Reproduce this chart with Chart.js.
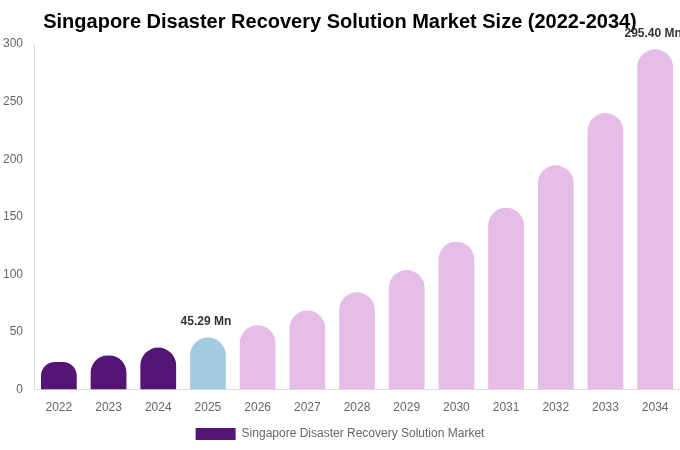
<!DOCTYPE html>
<html>
<head>
<meta charset="utf-8">
<script src="https://cdn.jsdelivr.net/npm/chart.js@4/dist/chart.umd.min.js"></script>
<style>
  html, body { margin: 0; padding: 0; background: #fff; }
  #wrap { width: 680px; height: 450px; }
</style>
</head>
<body>
<div id="wrap"><canvas id="marketChart"></canvas></div>
<script>
// data
var years = ['2022', '2023', '2024', '2025', '2026', '2027', '2028', '2029', '2030', '2031', '2032', '2033', '2034'];
var market_size = [24.0, 29.6, 36.5, 45.29, 55.9, 68.7, 84.4, 103.8, 128.4, 157.9, 194.7, 240.0, 295.40];
// which bars carry a value label on top
var labelled_years = ['2025', '2034'];
var series_name = 'Singapore Disaster Recovery Solution Market';
var chart_title = 'Singapore Disaster Recovery Solution Market Size (2022-2034)';

var HISTORIC = '#541574', CURRENT = '#a3cbdf', FORECAST = '#e6bce8';
var bar_colors = years.map(function (y) {
    var n = parseInt(y, 10);
    if (n < 2025) return HISTORIC;
    if (n === 2025) return CURRENT;
    return FORECAST;
});

Chart.defaults.font.family = "'Liberation Sans', Arial, sans-serif";
Chart.defaults.color = '#666';

//draws "xx.xx Mn" above chosen bars
var valueLabels = {
    id: 'valueLabels',
    afterDatasetsDraw: function (chart) {
        var ctx = chart.ctx;
        var meta = chart.getDatasetMeta(0);
        ctx.save();
        ctx.font = "bold 12px 'Liberation Sans', Arial, sans-serif";
        ctx.fillStyle = '#333';
        ctx.textAlign = 'center';
        ctx.textBaseline = 'bottom';
        meta.data.forEach(function (bar, i) {
            if (labelled_years.indexOf(years[i]) === -1) return;
            ctx.fillText(market_size[i].toFixed(2) + ' Mn', bar.x - 2, bar.y - 10);
        });
        ctx.restore();
    }
};

new Chart(document.getElementById('marketChart').getContext('2d'), {
    type: 'bar',
    data: {
        labels: years,
        datasets: [{
            label: series_name,
            data: market_size,
            backgroundColor: bar_colors,
            borderRadius: 30,
            borderSkipped: 'start'
        }]
    },
    options: {
        responsive: true,
        maintainAspectRatio: false,
        animation: false,
        layout: { padding: 0 },
        plugins: {
            title: {
                display: true,
                text: chart_title,
                color: '#000',
                font: { size: 20, weight: 'bold' },
                padding: 10
            },
            legend: {
                position: 'bottom',
                labels: {
                    boxWidth: 40,
                    boxHeight: 12,
                    color: '#666',
                    font: { size: 12 },
                    generateLabels: function () {
                        return [{ text: series_name, fillStyle: HISTORIC, strokeStyle: HISTORIC, lineWidth: 0, hidden: false, datasetIndex: 0, fontColor: '#666' }];
                    }
                }
            },
            tooltip: { enabled: false }
        },
        scales: {
            x: {
                grid: { display: false },
                border: { display: true, color: '#ddd' },
                ticks: { color: '#666', font: { size: 12 } }
            },
            y: {
                min: 0,
                max: 300,
                grid: { display: false },
                border: { display: true, color: '#ddd' },
                ticks: { stepSize: 50, color: '#666', font: { size: 12 } }
            }
        }
    },
    plugins: [valueLabels]
});
</script>
</body>
</html>
